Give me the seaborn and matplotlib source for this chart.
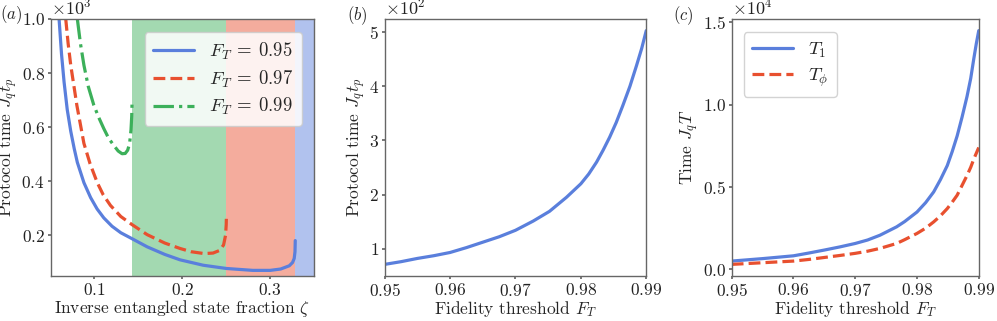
import numpy as np
import pandas as pd
import matplotlib
matplotlib.use('Agg')
import matplotlib.pyplot as plt
import seaborn as sns

# (a) protocol time vs inverse entangled state fraction
zeta_95 = [0.0597, 0.0625, 0.0654, 0.0690, 0.0730, 0.0770, 0.0805, 0.0880, 0.0956,
           0.1030, 0.1106, 0.1200, 0.1300, 0.1428, 0.1600, 0.1800, 0.1974, 0.2238,
           0.2502, 0.2803, 0.3000, 0.3120, 0.3218, 0.3255, 0.3274, 0.3283, 0.3286]
tp_95 = [1000, 870, 767, 665, 585, 520, 470, 395, 340, 298, 265, 234, 210, 188,
         158, 130, 110, 90, 78, 71, 71, 76, 88, 100, 115, 140, 181]

zeta_97 = [0.0673, 0.0700, 0.0730, 0.0800, 0.0880, 0.0950, 0.1032, 0.1100, 0.1182,
           0.1300, 0.1428, 0.1600, 0.1800, 0.1974, 0.2100, 0.2250, 0.2350, 0.2427,
           0.2470, 0.2492, 0.2500, 0.2502]
tp_97 = [1000, 910, 829, 680, 540, 465, 395, 350, 311, 270, 240, 203, 172, 152,
         140, 133, 135, 145, 165, 200, 240, 268]

zeta_99 = [0.0805, 0.0840, 0.0880, 0.0930, 0.0993, 0.1050, 0.1106, 0.1160, 0.1219,
           0.1270, 0.1314, 0.1350, 0.1378, 0.1400, 0.1416, 0.1424, 0.1428]
tp_99 = [1000, 910, 829, 750, 681, 635, 595, 560, 533, 512, 502, 503, 515, 540,
         590, 640, 691]

# shaded regions in zeta
band_edges = [1 / 7, 0.25, 0.3286, 0.35]

# (b) protocol time vs fidelity threshold
fid_b = [0.950, 0.9525, 0.955, 0.9575, 0.960, 0.9625, 0.965, 0.9675, 0.970, 0.9727,
         0.9752, 0.9778, 0.980, 0.9812, 0.9824, 0.9834, 0.9844, 0.9854, 0.9864,
         0.9875, 0.9885, 0.9893, 0.990]
tp_b = [71, 76, 82, 87, 93, 102, 112, 122, 134, 151, 169, 195, 220, 238, 260, 282,
        306, 333, 364, 400, 438, 470, 503]

# (c) coherence times vs fidelity threshold
fid_c = [0.950, 0.955, 0.960, 0.9625, 0.965, 0.9675, 0.970, 0.972, 0.974, 0.9767,
         0.978, 0.980, 0.9814, 0.9827, 0.9838, 0.9849, 0.9857, 0.9865, 0.9873,
         0.9881, 0.9887, 0.9892, 0.9896, 0.990]
t1 = [500, 650, 820, 990, 1170, 1360, 1570, 1780, 2070, 2580, 2900, 3480, 4050,
      4700, 5450, 6300, 7150, 8100, 9250, 10500, 11600, 12800, 13700, 14500]
tphi = [300, 400, 500, 600, 720, 840, 970, 1100, 1270, 1570, 1800, 2180, 2500,
        2880, 3250, 3690, 4080, 4500, 5100, 5700, 6200, 6700, 7050, 7400]

blue = '#5a7fdc'
red = '#e8502f'
green = '#3cb05a'

sns.set_theme(style='ticks')
plt.rcParams.update({
    'font.family': 'serif',
    'font.serif': ['cmr10'],
    'mathtext.fontset': 'cm',
    'axes.formatter.use_mathtext': True,
    'axes.unicode_minus': False,
    'font.size': 12,
    'axes.labelsize': 12.5,
    'xtick.labelsize': 12.5,
    'ytick.labelsize': 12.5,
    'legend.fontsize': 13.5,
    'axes.edgecolor': '#666666',
    'axes.linewidth': 1.0,
    'xtick.color': '#666666',
    'ytick.color': '#666666',
    'xtick.labelcolor': '#222222',
    'ytick.labelcolor': '#222222',
    'xtick.major.size': 2.5,
    'ytick.major.size': 2.5,
    'xtick.major.pad': 1.5,
    'ytick.major.pad': 1.5,
    'axes.facecolor': 'white',
})

fig = plt.figure(figsize=(9.97, 3.21), dpi=100)
bottom, top = 0.140, 0.941
ax_a = fig.add_axes([0.0507, bottom, 0.315 - 0.0507, top - bottom])
ax_b = fig.add_axes([0.3859, bottom, 0.6482 - 0.3859, top - bottom])
ax_c = fig.add_axes([0.7339, bottom, 0.9817 - 0.7339, top - bottom])

# --- panel (a)
for (lo, hi), col in zip(zip(band_edges[:-1], band_edges[1:]), [green, red, blue]):
    ax_a.axvspan(lo, hi, color=col, alpha=0.47, lw=0)

lw = 2.3
sns.lineplot(x=zeta_95, y=tp_95, ax=ax_a, color=blue, lw=lw, sort=False,
             label=r'$F_T \:=\: 0.95$')
sns.lineplot(x=zeta_97, y=tp_97, ax=ax_a, color=red, lw=lw, sort=False,
             linestyle='--', label=r'$F_T \:=\: 0.97$')
sns.lineplot(x=zeta_99, y=tp_99, ax=ax_a, color=green, lw=lw, sort=False,
             linestyle='-.', label=r'$F_T \:=\: 0.99$')
ax_a.set_xlim(0.05, 0.35)
ax_a.set_ylim(50, 1000)
ax_a.set_xticks([0.1, 0.2, 0.3])
ax_a.set_yticks([200, 400, 600, 800, 1000])
ax_a.ticklabel_format(axis='y', style='sci', scilimits=(0, 0))
ax_a.set_xlabel(r'Inverse entangled state fraction $\zeta$', labelpad=0)
ax_a.set_ylabel(r'Protocol time $J_q t_p$', labelpad=1)
ax_a.legend(loc='upper right', frameon=True, fancybox=True, framealpha=0.85,
            bbox_to_anchor=(0.99, 0.985), borderpad=0.45, handlelength=2.2,
            labelspacing=0.35)

# --- panel (b)
sns.lineplot(x=fid_b, y=tp_b, ax=ax_b, color=blue, lw=lw)
ax_b.set_xlim(0.95, 0.99)
ax_b.set_xticks([0.95, 0.96, 0.97, 0.98, 0.99])
ax_b.set_yticks([100, 200, 300, 400, 500])
ax_b.ticklabel_format(axis='y', style='sci', scilimits=(0, 0))
ax_b.set_xlabel(r'Fidelity threshold $F_T$', labelpad=0)
ax_b.set_ylabel(r'Protocol time $J_q t_p$', labelpad=1)

# --- panel (c)
sns.lineplot(x=fid_c, y=t1, ax=ax_c, color=blue, lw=lw, label=r'$T_1$')
sns.lineplot(x=fid_c, y=tphi, ax=ax_c, color=red, lw=lw, linestyle='--',
             label=r'$T_\phi$')
ax_c.set_xlim(0.95, 0.99)
ax_c.set_xticks([0.95, 0.96, 0.97, 0.98, 0.99])
ax_c.set_yticks([0, 5000, 10000, 15000])
ax_c.ticklabel_format(axis='y', style='sci', scilimits=(0, 0))
ax_c.set_xlabel(r'Fidelity threshold $F_T$', labelpad=0)
ax_c.set_ylabel(r'Time $J_q T$', labelpad=1)
ax_c.legend(loc='upper left', frameon=True, fancybox=True, framealpha=0.85,
            bbox_to_anchor=(0.01, 0.985), borderpad=0.45, handlelength=2.2,
            labelspacing=0.35)

for ax in (ax_a, ax_b, ax_c):
    ax.yaxis.get_offset_text().set_fontsize(13)

fig.text(0.0, 0.953, r'$(a)$', fontsize=12, ha='left', va='center')
fig.text(0.348, 0.950, r'$(b)$', fontsize=12, ha='left', va='center')
fig.text(0.675, 0.950, r'$(c)$', fontsize=12, ha='left', va='center')

fig.savefig('out.png', dpi=100)
